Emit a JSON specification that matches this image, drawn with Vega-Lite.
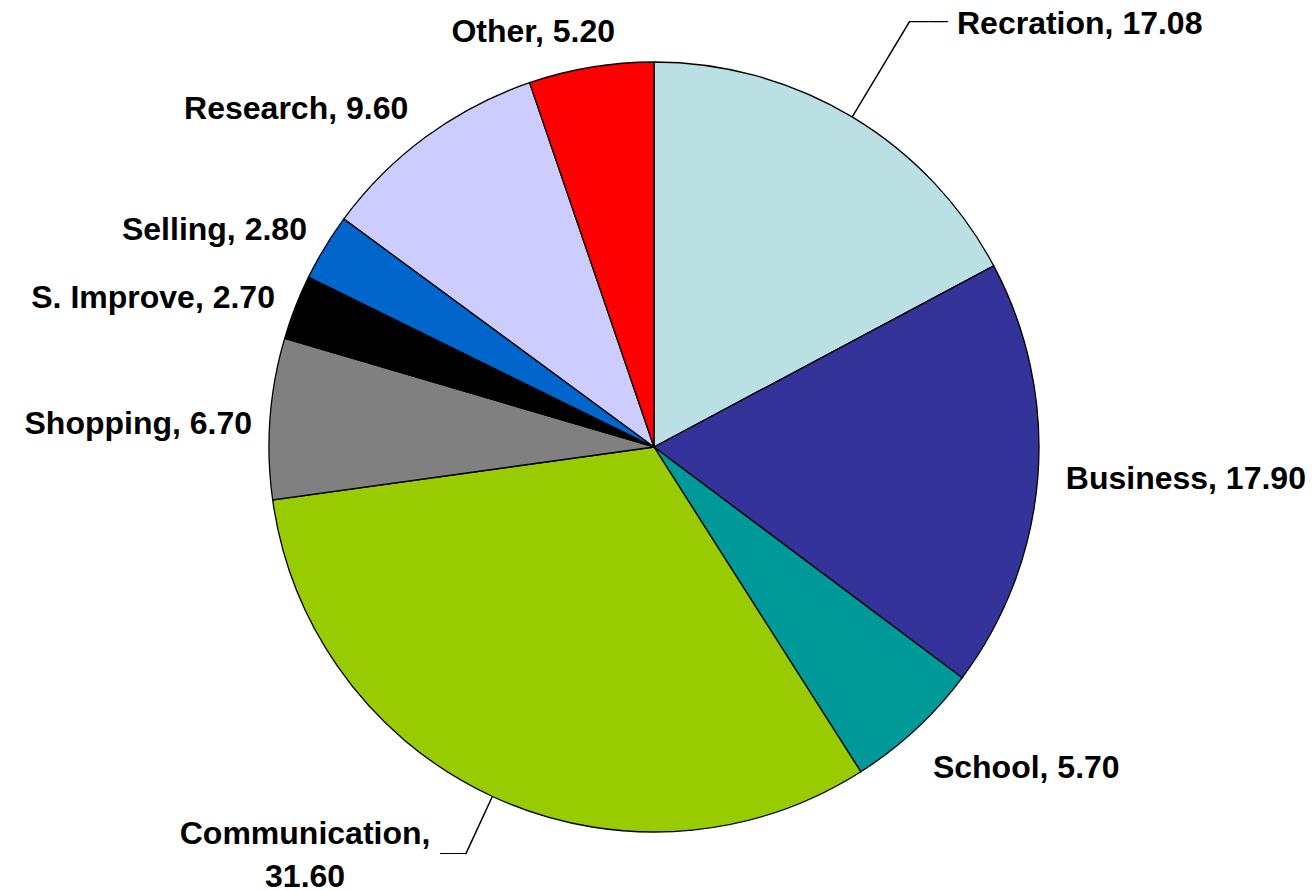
{
  "$schema": "https://vega.github.io/schema/vega-lite/v6.json",
  "width": 1308,
  "height": 886,
  "autosize": {"type": "none"},
  "padding": {"left": 0, "top": 4, "right": 6, "bottom": 0},
  "background": "white",
  "config": {
    "view": {"stroke": null},
    "text": {"font": "Liberation Sans", "fontWeight": "bold", "fontSize": 32, "color": "black"}
  },
  "data": {
    "values": [
      {"idx": 1, "cat": "Recration", "value": 17.08},
      {"idx": 2, "cat": "Business", "value": 17.90},
      {"idx": 3, "cat": "School", "value": 5.70},
      {"idx": 4, "cat": "Communication", "value": 31.60},
      {"idx": 5, "cat": "Shopping", "value": 6.70},
      {"idx": 6, "cat": "S. Improve", "value": 2.70},
      {"idx": 7, "cat": "Selling", "value": 2.80},
      {"idx": 8, "cat": "Research", "value": 9.60},
      {"idx": 9, "cat": "Other", "value": 5.20}
    ]
  },
  "transform": [
    {"window": [{"op": "sum", "field": "value", "as": "end"}], "sort": [{"field": "idx", "order": "ascending"}], "frame": [null, 0]},
    {"calculate": "datum.end - datum.value", "as": "start"},
    {"calculate": "datum.end - datum.value / 2", "as": "mid"},
    {"calculate": "datum.mid + 0.01", "as": "mid2"},
    {"calculate": "datum.cat + ', ' + format(datum.value, '.2f')", "as": "label"}
  ],
  "layer": [
    {
      "mark": {"type": "arc", "outerRadius": 385, "stroke": "black", "strokeWidth": 1.3},
      "encoding": {
        "theta": {"field": "end", "type": "quantitative"},
        "theta2": {"field": "start"},
        "color": {
          "field": "cat", "type": "nominal", "legend": null,
          "scale": {
            "domain": ["Recration", "Business", "School", "Communication", "Shopping", "S. Improve", "Selling", "Research", "Other"],
            "range": ["#BBE0E3", "#333399", "#009999", "#99CC00", "#808080", "#000000", "#0066CC", "#CCCCFF", "#FF0000"]
          }
        }
      }
    },
    {
      "transform": [{"filter": "datum.cat === 'Recration'"}],
      "mark": {"type": "arc", "innerRadius": 386, "outerRadius": 496, "stroke": "black", "strokeWidth": 1.2, "color": "black"},
      "encoding": {"theta": {"field": "mid", "type": "quantitative"}, "theta2": {"field": "mid2"}}
    },
    {
      "transform": [{"filter": "datum.cat === 'Communication'"}],
      "mark": {"type": "arc", "innerRadius": 386, "outerRadius": 448, "stroke": "black", "strokeWidth": 1.2, "color": "black"},
      "encoding": {"theta": {"field": "mid", "type": "quantitative"}, "theta2": {"field": "mid2"}}
    },
    {
      "transform": [{"filter": "datum.cat === 'Recration'"}],
      "mark": {"type": "text", "radius": 495.6, "align": "left", "baseline": "alphabetic", "fontWeight": "normal", "fontSize": 19.5, "dy": 5, "text": "——"},
      "encoding": {"theta": {"field": "mid", "type": "quantitative", "stack": null}}
    },
    {
      "transform": [{"filter": "datum.cat === 'Communication'"}],
      "mark": {"type": "text", "radius": 448, "align": "right", "baseline": "alphabetic", "fontWeight": "normal", "fontSize": 13, "dy": 3, "text": "——"},
      "encoding": {"theta": {"field": "mid", "type": "quantitative", "stack": null}}
    },
    {
      "transform": [{"filter": "datum.cat === 'Recration'"}],
      "mark": {"type": "text", "radius": 495.6, "align": "left", "baseline": "middle", "dx": 48, "dy": 2},
      "encoding": {"theta": {"field": "mid", "type": "quantitative", "stack": null}, "text": {"field": "label"}}
    },
    {
      "transform": [{"filter": "datum.cat === 'Business'"}],
      "mark": {"type": "text", "radius": 413, "align": "left", "baseline": "middle"},
      "encoding": {"theta": {"field": "mid", "type": "quantitative", "stack": null}, "text": {"field": "label"}}
    },
    {
      "transform": [{"filter": "datum.cat === 'School'"}],
      "mark": {"type": "text", "radius": 425, "align": "left", "baseline": "middle", "dx": -10, "dy": 9},
      "encoding": {"theta": {"field": "mid", "type": "quantitative", "stack": null}, "text": {"field": "label"}}
    },
    {
      "transform": [
        {"filter": "datum.cat === 'Communication'"},
        {"calculate": "datum.cat + ',\\n' + format(datum.value, '.2f')", "as": "label2"}
      ],
      "mark": {"type": "text", "radius": 448, "align": "center", "baseline": "middle", "dx": -161, "dy": -20, "lineBreak": "\n", "lineHeight": 43},
      "encoding": {"theta": {"field": "mid", "type": "quantitative", "stack": null}, "text": {"field": "label2"}}
    },
    {
      "transform": [{"filter": "datum.cat === 'Shopping'"}],
      "mark": {"type": "text", "radius": 403, "align": "right", "baseline": "middle", "dy": 6.5},
      "encoding": {"theta": {"field": "mid", "type": "quantitative", "stack": null}, "text": {"field": "label"}}
    },
    {
      "transform": [{"filter": "datum.cat === 'S. Improve'"}],
      "mark": {"type": "text", "radius": 406.8, "align": "right", "baseline": "middle", "dy": -1},
      "encoding": {"theta": {"field": "mid", "type": "quantitative", "stack": null}, "text": {"field": "label"}}
    },
    {
      "transform": [{"filter": "datum.cat === 'Selling'"}],
      "mark": {"type": "text", "radius": 406, "align": "right", "baseline": "middle", "dy": -6},
      "encoding": {"theta": {"field": "mid", "type": "quantitative", "stack": null}, "text": {"field": "label"}}
    },
    {
      "transform": [{"filter": "datum.cat === 'Research'"}],
      "mark": {"type": "text", "radius": 415.5, "align": "right", "baseline": "middle", "dy": -3},
      "encoding": {"theta": {"field": "mid", "type": "quantitative", "stack": null}, "text": {"field": "label"}}
    },
    {
      "transform": [{"filter": "datum.cat === 'Other'"}],
      "mark": {"type": "text", "radius": 420.6, "align": "right", "baseline": "middle", "dx": 30},
      "encoding": {"theta": {"field": "mid", "type": "quantitative", "stack": null}, "text": {"field": "label"}}
    }
  ]
}
